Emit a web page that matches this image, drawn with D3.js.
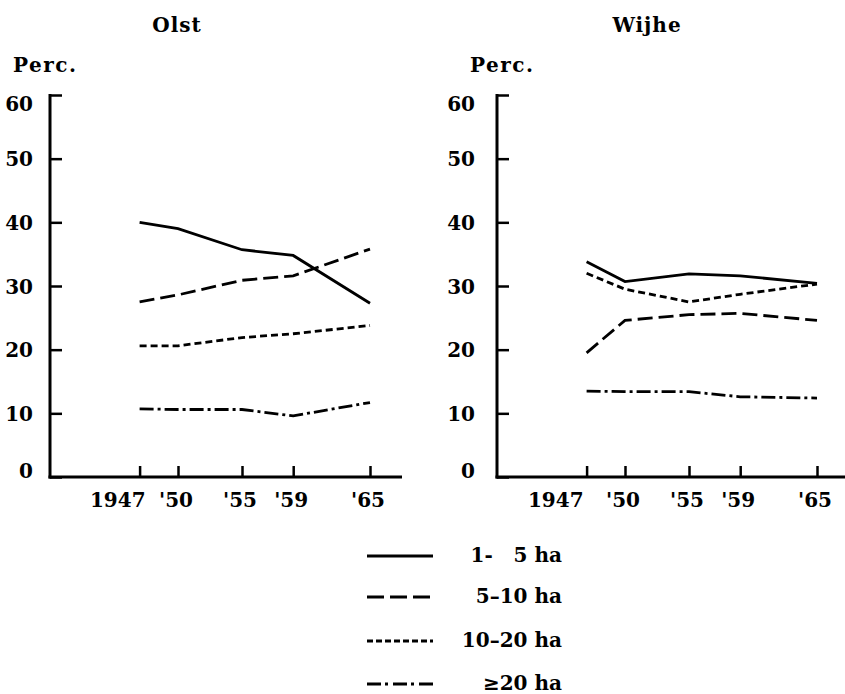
<!DOCTYPE html>
<html>
<head>
<meta charset="utf-8">
<script src="https://cdn.jsdelivr.net/npm/d3@7"></script>
<style>
  html, body { margin: 0; padding: 0; background: #fff; }
  svg text { font-family: "DejaVu Serif", serif; font-weight: bold; fill: #000; }
</style>
</head>
<body>
<svg id="chart" width="845" height="694"></svg>
<script>
// ---- data ----
const years = [1947, 1950, 1955, 1959, 1965];
const yearLabels = ["1947", "'50", "'55", "'59", "'65"];
const yTicks = [0, 10, 20, 30, 40, 50, 60];
const panelTitles = ["Olst", "Wijhe"];
const seriesNames = ["1-   5 ha", "5–10 ha", "10–20 ha", "≥20 ha"];

const olst_1_5   = [40.0, 39.0, 35.7, 34.8, 27.3];
const olst_5_10  = [27.5, 28.6, 30.9, 31.6, 35.8];
const olst_10_20 = [20.6, 20.6, 21.9, 22.5, 23.8];
const olst_20    = [10.7, 10.6, 10.6, 9.6, 11.7];

const wijhe_1_5   = [33.8, 30.7, 31.9, 31.6, 30.4];
const wijhe_5_10  = [19.5, 24.6, 25.5, 25.7, 24.6];
const wijhe_10_20 = [32.0, 29.5, 27.5, 28.7, 30.3];
const wijhe_20    = [13.5, 13.4, 13.4, 12.6, 12.4];

// ---- styles ----
const dashes = [null, "15,6", "7,4", "14,4,3,4"];
const FS = "20px";

const svg = d3.select("#chart");

const panels = [
  { title: panelTitles[0], data: [olst_1_5, olst_5_10, olst_10_20, olst_20],
    axisX: 50, xEnd: 402, titleX: 177, percX: 13, labelGap: 17, firstLabelDx: 6 },
  { title: panelTitles[1], data: [wijhe_1_5, wijhe_5_10, wijhe_10_20, wijhe_20],
    axisX: 497, xEnd: 845, titleX: 647, percX: 470, labelGap: 22, firstLabelDx: -3 }
];

const yTop = 95, yBottom = 477;
const y = d3.scaleLinear().domain([0, 60]).range([yBottom, yTop]);

panels.forEach(p => {
  const g = svg.append("g");
  const pxPerYear = 12.8;
  const x = d3.scaleLinear().domain([1940, 1941]).range([p.axisX, p.axisX + pxPerYear]);

  g.append("text").attr("x", p.titleX).attr("y", 32).attr("text-anchor", "middle")
    .style("font-size", FS).style("letter-spacing", "1px").text(p.title);
  g.append("text").attr("x", p.percX).attr("y", 72)
    .style("font-size", FS).style("letter-spacing", "1.5px").text("Perc.");

  // y axis
  const yAxis = d3.axisRight(y).tickValues(yTicks).tickSize(12).tickFormat("");
  const ya = g.append("g").attr("transform", `translate(${p.axisX},0)`).call(yAxis);
  ya.select(".domain").remove();
  ya.selectAll(".tick line").attr("stroke", "#000").attr("stroke-width", 2.5);
  g.append("line").attr("x1", p.axisX).attr("x2", p.axisX)
    .attr("y1", yTop - 1).attr("y2", yBottom + 1.5)
    .attr("stroke", "#000").attr("stroke-width", 3);
  g.selectAll(".ylab").data(yTicks).enter().append("text")
    .attr("x", p.axisX - p.labelGap)
    .attr("y", d => Math.max(103, Math.min(470, y(d))) + 7.5)
    .attr("text-anchor", "end").style("font-size", FS).text(d => d);

  // x axis
  g.append("line").attr("x1", p.axisX - 1.5).attr("x2", p.xEnd)
    .attr("y1", yBottom).attr("y2", yBottom)
    .attr("stroke", "#000").attr("stroke-width", 3);
  const xAxis = d3.axisTop(x).tickValues(years).tickSize(11).tickFormat("");
  const xa = g.append("g").attr("transform", `translate(0,${yBottom})`).call(xAxis);
  xa.select(".domain").remove();
  xa.selectAll(".tick line").attr("stroke", "#000").attr("stroke-width", 2.5);
  g.selectAll(".xlab").data(years).enter().append("text")
    .attr("x", (d, i) => i === 0 ? x(d) + p.firstLabelDx : x(d) - 2)
    .attr("y", 507)
    .attr("text-anchor", (d, i) => i === 0 ? "end" : "middle")
    .style("font-size", FS)
    .text((d, i) => yearLabels[i]);

  // lines
  const line = d3.line().x((d, i) => x(years[i])).y(d => y(d));
  p.data.forEach((s, k) => {
    g.append("path").datum(s).attr("d", line)
      .attr("fill", "none").attr("stroke", "#000").attr("stroke-width", 2.8)
      .attr("stroke-dasharray", dashes[k]);
  });
});

// legend
const legendBase = [562, 603, 647, 690];
const lg = svg.append("g");
seriesNames.forEach((name, k) => {
  lg.append("line").attr("x1", 367).attr("x2", 433)
    .attr("y1", legendBase[k] - 6).attr("y2", legendBase[k] - 6)
    .attr("stroke", "#000").attr("stroke-width", 2.8)
    .attr("stroke-dasharray", k === 1 ? "17,6" : k === 2 ? "6,3" : k === 3 ? "14,4,3,5" : null);
  lg.append("text").attr("x", 562).attr("y", legendBase[k])
    .attr("text-anchor", "end").attr("xml:space", "preserve")
    .style("white-space", "pre").style("font-size", FS).text(name);
});
</script>
</body>
</html>
